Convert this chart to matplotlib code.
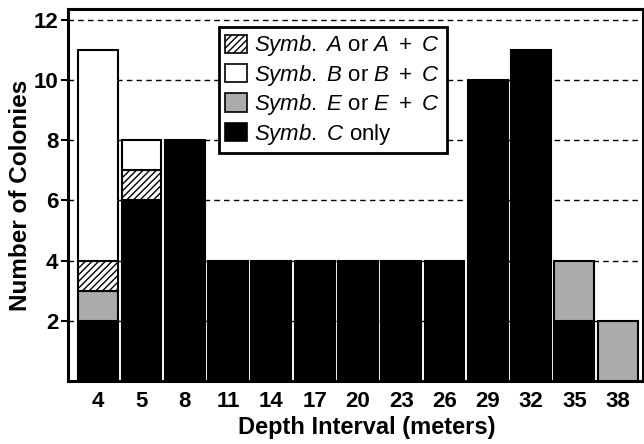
import matplotlib
matplotlib.use("Agg")
import matplotlib.pyplot as plt
import numpy as np
from matplotlib.patches import Patch

plt.rcParams['font.family'] = ['Liberation Sans', 'DejaVu Sans']
plt.rcParams['mathtext.fontset'] = 'custom'
plt.rcParams['mathtext.rm'] = 'Liberation Sans'
plt.rcParams['mathtext.it'] = 'Liberation Sans:italic'
plt.rcParams['hatch.linewidth'] = 1.0

depths = ['4', '5', '8', '11', '14', '17', '20', '23', '26', '29', '32', '35', '38']
c_only = [2, 6, 8, 4, 4, 4, 4, 4, 4, 10, 11, 2, 0]
symb_e = [1, 0, 0, 0, 0, 0, 0, 0, 0, 0, 0, 2, 2]
symb_a = [1, 1, 0, 0, 0, 0, 0, 0, 0, 0, 0, 0, 0]
symb_b = [7, 1, 0, 0, 0, 0, 0, 0, 0, 0, 0, 0, 0]

fig = plt.figure(figsize=(6.44, 4.44), dpi=100)
ax = fig.add_axes([0.1056, 0.142, 0.8924, 0.838])

x = np.arange(len(depths))
w = 0.92
ekw = dict(edgecolor='black', linewidth=1.5, width=w, zorder=3)

c = np.array(c_only); e = np.array(symb_e); a = np.array(symb_a); b = np.array(symb_b)

def draw(vals, bottom, **kw):
    m = vals > 0
    ax.bar(x[m], vals[m], bottom=bottom[m], **kw, **ekw)

zero = np.zeros(len(x))
draw(c, zero, color='black')
draw(e, c, color='#ababab')
draw(a, c + e, color='white', hatch='/////')
draw(b, c + e + a, color='white')

ax.set_xlim(-0.70, 12.58)
ax.set_ylim(0, 12.37)
ax.set_yticks([2, 4, 6, 8, 10, 12])
ax.set_xticks(x)
ax.set_xticklabels(depths)
ax.tick_params(axis='x', length=0, pad=7)
ax.tick_params(axis='y', direction='out', length=5, width=1.5, pad=2)
for lab in ax.get_xticklabels() + ax.get_yticklabels():
    lab.set_fontsize(16)
    lab.set_fontweight('bold')

ax.yaxis.grid(True, linestyle=(0, (4, 3)), color='black', linewidth=1.0, zorder=0)
ax.set_axisbelow(True)
for s in ax.spines.values():
    s.set_linewidth(2.2)

ax.set_xlabel('Depth Interval (meters)', fontsize=17, fontweight='bold', labelpad=4)
ax.xaxis.set_label_coords(0.52, -0.095)
ax.set_ylabel('Number of Colonies', fontsize=17.5, fontweight='bold', labelpad=1)

handles = [
    Patch(facecolor='white', edgecolor='black', hatch='/////', linewidth=1.2),
    Patch(facecolor='white', edgecolor='black', linewidth=1.2),
    Patch(facecolor='#ababab', edgecolor='black', linewidth=1.2),
    Patch(facecolor='black', edgecolor='black', linewidth=1.2),
]
labels = [
    r'$\mathit{Symb.}$ $\mathit{A}$ or $\mathit{A}\ +\ \mathit{C}$',
    r'$\mathit{Symb.}$ $\mathit{B}$ or $\mathit{B}\ +\ \mathit{C}$',
    r'$\mathit{Symb.}$ $\mathit{E}$ or $\mathit{E}\ +\ \mathit{C}$',
    r'$\mathit{Symb.}$ $\mathit{C}$ only',
]
leg = ax.legend(handles, labels, loc='upper left', bbox_to_anchor=(0.262, 0.952),
                fontsize=16, fancybox=False, framealpha=1, edgecolor='black',
                handlelength=1.0, handleheight=0.9, handletextpad=0.3,
                labelspacing=0.2, borderpad=0.3, borderaxespad=0)
leg.get_frame().set_linewidth(2.0)
leg.set_zorder(5)

fig.savefig('out.png', dpi=100)
